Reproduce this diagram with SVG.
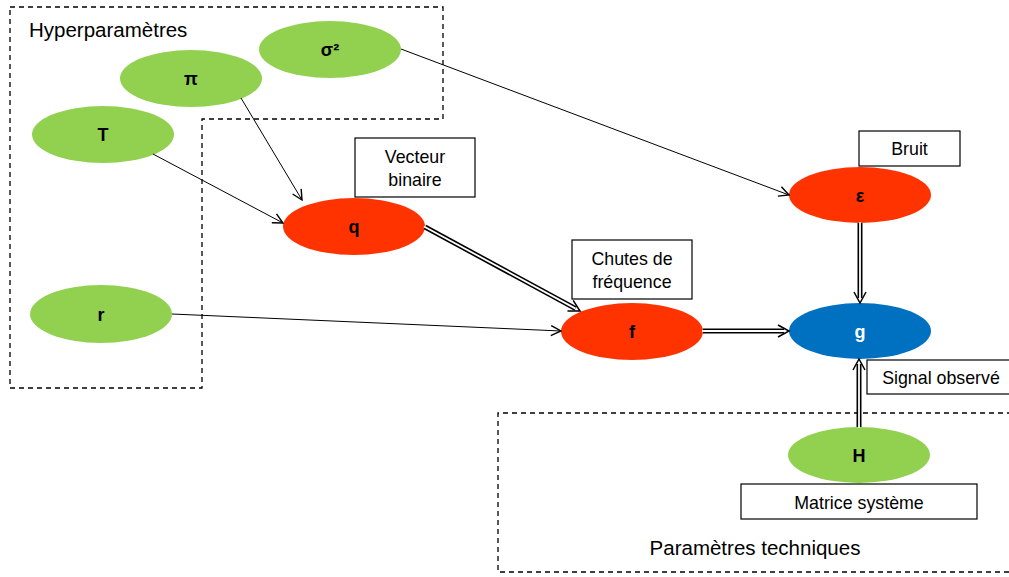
<svg xmlns="http://www.w3.org/2000/svg" width="1009" height="577" viewBox="0 0 1009 577">
<style>
  .grp{fill:none;stroke:#000;stroke-width:1.3;stroke-dasharray:5,4}
  .gtxt{font-family:"Liberation Sans",Arial,sans-serif;font-size:20.5px;fill:#000}
  .green{fill:#92D050}
  .red{fill:#FF3300}
  .blue{fill:#0070C0}
  .nl{font-family:"Liberation Sans",Arial,sans-serif;font-size:18px;font-weight:bold;fill:#000;text-anchor:middle}
  .box{fill:#fff;stroke:#000;stroke-width:1.2}
  .bl{font-family:"Liberation Sans",Arial,sans-serif;font-size:17.8px;fill:#000;text-anchor:middle}
  .single{fill:none;stroke:#000;stroke-width:1}
  .dblo{fill:none;stroke:#000;stroke-width:5}
  .dbli{fill:none;stroke:#fff;stroke-width:1.8}
</style>
<defs>
  <marker id="arr" viewBox="0 0 12 12" refX="11" refY="6" markerWidth="12" markerHeight="12" markerUnits="userSpaceOnUse" orient="auto">
    <path d="M1,1 L11,6 L1,11" fill="none" stroke="#000" stroke-width="1.4"/>
  </marker>
  <marker id="arrD" viewBox="0 0 14 14" refX="7" refY="7" markerWidth="14" markerHeight="14" markerUnits="userSpaceOnUse" orient="auto">
    <path d="M1,1 L12,7 L1,13" fill="none" stroke="#000" stroke-width="1.5"/>
  </marker>
</defs>
<rect width="1009" height="577" fill="#fff"/>

<g id="group-hyper">
  <path class="grp" d="M10,7 H443 V119 H202 V388 H10 Z"/>
  <text class="gtxt" x="29" y="37">Hyperparamètres</text>
</g>
<g id="group-tech">
  <path class="grp" d="M1012,413 H498 V572 H1012"/>
  <text class="gtxt" x="755" y="555" text-anchor="middle">Paramètres techniques</text>
</g>

<g id="node-sigma2">
  <ellipse class="green" cx="330" cy="49.5" rx="71" ry="28.5"/>
  <text class="nl" x="330" y="55.5">σ²</text>
</g>
<g id="node-pi">
  <ellipse class="green" cx="191" cy="78.5" rx="71" ry="28.5"/>
  <text class="nl" x="191" y="84.5">π</text>
</g>
<g id="node-T">
  <ellipse class="green" cx="103" cy="134.5" rx="71" ry="28.5"/>
  <text class="nl" x="103" y="141">T</text>
</g>
<g id="node-r">
  <ellipse class="green" cx="101" cy="314" rx="71" ry="29"/>
  <text class="nl" x="101" y="320.5">r</text>
</g>
<g id="node-q">
  <ellipse class="red" cx="354" cy="226.5" rx="71" ry="28.5"/>
  <text class="nl" x="354" y="232.5">q</text>
</g>
<g id="node-f">
  <ellipse class="red" cx="632" cy="331.5" rx="71" ry="28.5"/>
  <text class="nl" x="632" y="338">f</text>
</g>
<g id="node-eps">
  <ellipse class="red" cx="860" cy="195" rx="71" ry="28"/>
  <text class="nl" x="860" y="201.5">ε</text>
</g>
<g id="node-g">
  <ellipse class="blue" cx="860" cy="331" rx="71" ry="28"/>
  <text class="nl" x="860" y="337.5" style="fill:#fff">g</text>
</g>
<g id="node-H">
  <ellipse class="green" cx="859" cy="455" rx="71" ry="28"/>
  <text class="nl" x="859" y="461.5">H</text>
</g>

<g id="label-vecteur">
  <rect class="box" x="355" y="138" width="120" height="59"/>
  <text class="bl" x="415" y="162.5">Vecteur</text>
  <text class="bl" x="415" y="185.5">binaire</text>
</g>
<g id="label-chutes">
  <rect class="box" x="572" y="240" width="120" height="59"/>
  <text class="bl" x="632" y="264.5">Chutes de</text>
  <text class="bl" x="632" y="287.5">fréquence</text>
</g>
<g id="label-bruit">
  <rect class="box" x="859" y="131" width="101" height="35"/>
  <text class="bl" x="909.5" y="155">Bruit</text>
</g>
<g id="label-signal">
  <rect class="box" x="867" y="360" width="145" height="34"/>
  <text class="bl" x="941" y="384">Signal observé</text>
</g>
<g id="label-matrice">
  <rect class="box" x="741" y="484" width="236" height="35"/>
  <text class="bl" x="859" y="508.5">Matrice système</text>
</g>

<g id="connectors">
  <path class="single" d="M401,49 L789,195" marker-end="url(#arr)"/>
  <path class="single" d="M241,98 L302,200" marker-end="url(#arr)"/>
  <path class="single" d="M153,154 L283,223" marker-end="url(#arr)"/>
  <path class="single" d="M172,314 L561,331" marker-end="url(#arr)"/>

  <path class="dblo" d="M425,227 L575.6,308.6" marker-end="url(#arrD)"/>
  <path class="dbli" d="M424,226.5 L575.6,308.6"/>

  <path class="dblo" d="M703,331 L784,331" marker-end="url(#arrD)"/>
  <path class="dbli" d="M702,331 L784,331"/>

  <path class="dblo" d="M860,223 L860,298" marker-end="url(#arrD)"/>
  <path class="dbli" d="M860,222 L860,298"/>

  <path class="dblo" d="M859,427 L859,364" marker-end="url(#arrD)"/>
  <path class="dbli" d="M859,428 L859,364"/>
</g>
</svg>
